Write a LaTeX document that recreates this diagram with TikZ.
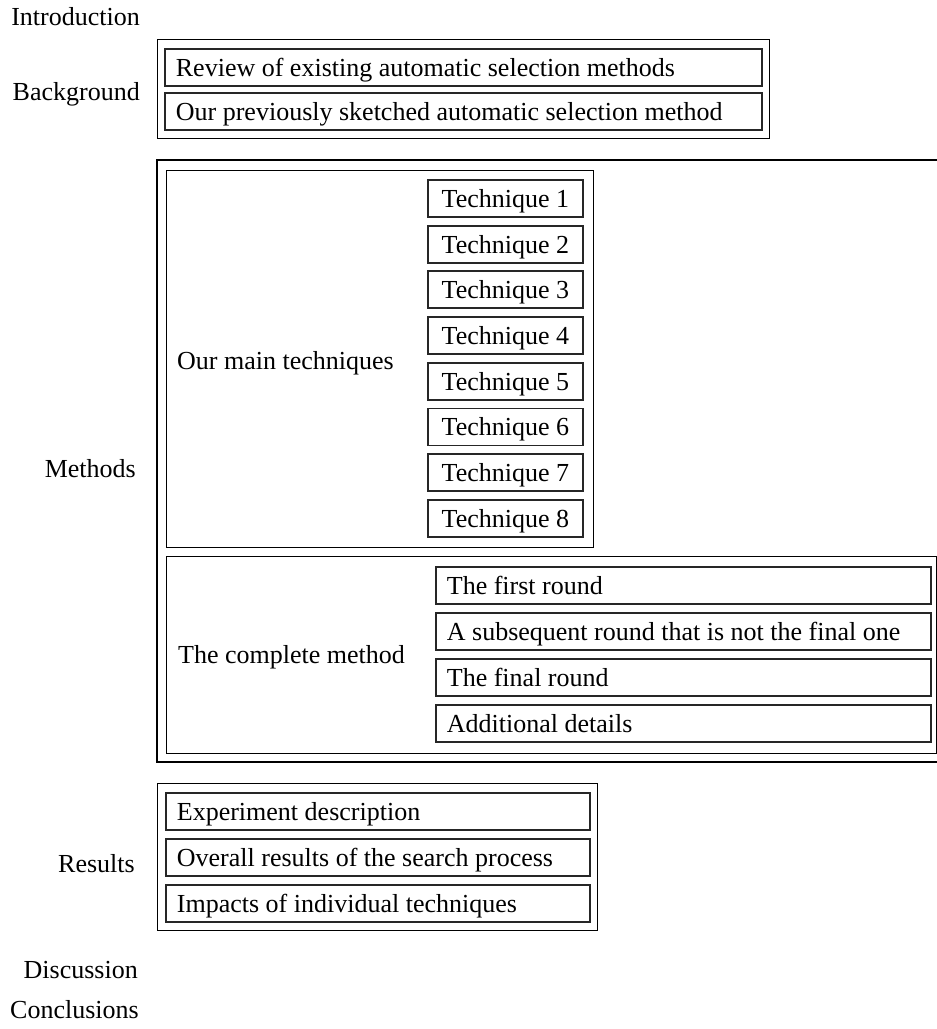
\documentclass[tikz,border=0pt]{standalone}
\usepackage{fontspec}
\setmainfont{Liberation Serif}
\begin{document}
\begin{tikzpicture}[x=1pt,y=-1pt,
  font=\fontsize{26pt}{30pt}\selectfont,
  lbl/.style={inner sep=0pt},
  obox/.style={draw=black,line width=1.4pt,inner sep=0pt,anchor=north west},
  ibox/.style={draw=black!85,line width=1.8pt,inner xsep=11pt,inner ysep=0pt,
    minimum height=37pt,text height=21pt,text depth=3pt,anchor=north west},
  tbox/.style={draw=black!85,line width=1.8pt,inner xsep=0pt,inner ysep=0pt,
    minimum width=155pt,minimum height=37pt,text height=21pt,text depth=3pt,anchor=north west}
]
\useasboundingbox (0,0) rectangle (937,1029);

% left column labels
\node[lbl,anchor=base east] (intro) at (140,25) {Introduction};
\node[lbl,anchor=base east] (backg) at (140,100) {Background};
\node[lbl,anchor=base east] (meth) at (136,477) {Methods};
\node[lbl,anchor=base east] (resl) at (135,872) {Results};
\node[lbl,anchor=base east] (disc) at (138,978) {Discussion};
\node[lbl,anchor=base east] (concl) at (139,1018) {Conclusions};

% Background
\node[obox,minimum width=612pt,minimum height=99pt] (bgbox) at (157,39) {};
\node[ibox] (review) at (164,48) {\makebox[575pt][l]{Review of existing automatic selection methods}};
\node[ibox] (prev) at (164,92) {\makebox[575pt][l]{Our previously sketched automatic selection method}};

% Methods (right side runs off the page)
\coordinate (mtr) at (945,160);
\coordinate (mbr) at (945,762);
\draw[line width=1.6pt] (mtr) -| (157,762) -- (mbr);

\node[obox,minimum width=427pt,minimum height=377pt] (mainbox) at (166,170) {};
\node[lbl,anchor=base west] (maintxt) at (177,369) {Our main techniques};
\foreach \i in {1,...,8}{
  \node[tbox] (tech\i) at (427,{179+(\i-1)*45.7}) {Technique \i};
}

\node[obox,minimum width=770pt,minimum height=197pt] (compbox) at (166,556) {};
\node[lbl,anchor=base west] (comptxt) at (178,663) {The complete method};
\node[ibox] (r1) at (435,566) {\makebox[473pt][l]{The first round}};
\node[ibox] (r2) at (435,612) {\makebox[473pt][l]{A subsequent round that is not the final one}};
\node[ibox] (r3) at (435,658) {\makebox[473pt][l]{The final round}};
\node[ibox] (r4) at (435,704) {\makebox[473pt][l]{Additional details}};

% Results
\node[obox,minimum width=440pt,minimum height=147pt] (resbox) at (157,783) {};
\node[ibox] (e1) at (165,792) {\makebox[402pt][l]{Experiment description}};
\node[ibox] (e2) at (165,838) {\makebox[402pt][l]{Overall results of the search process}};
\node[ibox] (e3) at (165,884) {\makebox[402pt][l]{Impacts of individual techniques}};
\end{tikzpicture}
\end{document}
